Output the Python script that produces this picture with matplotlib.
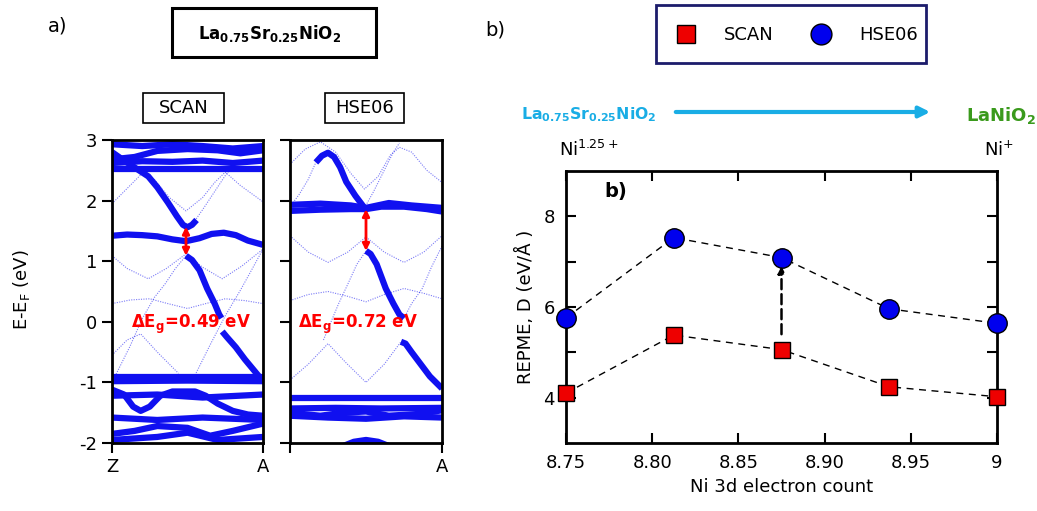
import matplotlib
matplotlib.use('Agg')
import matplotlib.pyplot as plt
from matplotlib.patches import Rectangle, FancyArrowPatch
from matplotlib.lines import Line2D

# ---- band structure data, (k, E) with k from Z (0) to A (1) ----
# SCAN, heavy-weight bands
scan_cb = [(0.0, 2.80), (0.08, 2.66), (0.16, 2.53), (0.24, 2.40), (0.30, 2.22), (0.37, 1.97),
           (0.43, 1.74), (0.47, 1.60), (0.50, 1.56), (0.53, 1.60), (0.56, 1.68)]
scan_flat = [(0.0, 1.42), (0.1, 1.44), (0.2, 1.43), (0.3, 1.41), (0.4, 1.36), (0.49, 1.33),
             (0.58, 1.38), (0.66, 1.45), (0.74, 1.47), (0.82, 1.43), (0.9, 1.34), (1.0, 1.27)]
scan_vb1 = [(0.49, 1.09), (0.53, 1.02), (0.58, 0.85), (0.63, 0.55), (0.68, 0.30), (0.71, 0.12), (0.725, 0.06)]
scan_vb2 = [(0.73, -0.16), (0.76, -0.25), (0.82, -0.42), (0.88, -0.62), (0.94, -0.80), (1.0, -0.98)]
scan_top1 = [(0.0, 2.93), (0.2, 2.90), (0.4, 2.93), (0.6, 2.90), (0.8, 2.86), (1.0, 2.90)]
scan_top2 = [(0.0, 2.68), (0.15, 2.72), (0.3, 2.82), (0.5, 2.85), (0.7, 2.83), (0.85, 2.78), (1.0, 2.83)]
scan_top3 = [(0.0, 2.62), (0.2, 2.65), (0.4, 2.64), (0.6, 2.66), (0.8, 2.62), (1.0, 2.66)]
scan_top4 = [(0.0, 2.52), (0.5, 2.52), (1.0, 2.52)]
scan_low1 = [(0.0, -0.91), (0.5, -0.91), (1.0, -0.91)]
scan_low2 = [(0.0, -0.98), (0.5, -0.97), (1.0, -0.98)]
scan_low3 = [(0.0, -1.22), (0.3, -1.20), (0.6, -1.25), (1.0, -1.20)]
scan_low4 = [(0.0, -1.12), (0.08, -1.20), (0.14, -1.40), (0.19, -1.47), (0.25, -1.40), (0.32, -1.22),
             (0.4, -1.15), (0.55, -1.15), (0.62, -1.22), (0.7, -1.35), (0.8, -1.47), (0.9, -1.53), (1.0, -1.55)]
scan_bot1 = [(0.0, -1.85), (0.15, -1.80), (0.3, -1.72), (0.5, -1.75), (0.65, -1.88), (0.8, -1.80), (1.0, -1.68)]
scan_bot2 = [(0.0, -1.95), (0.3, -1.90), (0.5, -1.83), (0.7, -1.95), (1.0, -1.90)]
scan_bot3 = [(0.0, -1.58), (0.3, -1.62), (0.6, -1.58), (1.0, -1.62)]
# SCAN, light-weight bands
scan_t1 = [(0.0, 1.95), (0.1, 2.20), (0.2, 2.45), (0.28, 2.35), (0.38, 2.05), (0.49, 1.83), (0.6, 2.05),
           (0.68, 2.30), (0.75, 2.47), (0.85, 2.25), (1.0, 1.98)]
scan_t2 = [(0.0, 1.09), (0.1, 0.88), (0.24, 0.71), (0.36, 0.88), (0.49, 1.12), (0.6, 0.90),
           (0.73, 0.71), (0.86, 0.92), (1.0, 1.20)]
scan_t3 = [(0.0, 0.30), (0.12, 0.36), (0.25, 0.38), (0.37, 0.30), (0.5, 0.22), (0.62, 0.30),
           (0.75, 0.38), (0.88, 0.35), (1.0, 0.30)]
scan_t4 = [(0.02, -0.90), (0.12, -0.40), (0.2, 0.05), (0.28, 0.40), (0.35, 0.62), (0.42, 0.88), (0.49, 1.09)]
scan_t5 = [(0.55, -0.88), (0.65, -0.38), (0.75, 0.10), (0.85, 0.52), (0.93, 0.88), (1.0, 1.20)]
scan_t6 = [(0.53, 1.60), (0.6, 1.85), (0.68, 2.15), (0.76, 2.45), (0.82, 2.60)]
scan_t7 = [(0.0, -0.55), (0.1, -0.30), (0.19, -0.20), (0.3, -0.50), (0.44, -0.85)]

# HSE06, heavy-weight bands
hse_cb = [(0.17, 2.63), (0.21, 2.74), (0.25, 2.79), (0.29, 2.72), (0.33, 2.55), (0.37, 2.31),
          (0.43, 2.08), (0.49, 1.88)]
hse_flat1 = [(0.0, 1.83), (0.2, 1.85), (0.4, 1.86), (0.5, 1.86), (0.6, 1.90), (0.75, 1.90), (0.9, 1.86), (1.0, 1.82)]
hse_flat2 = [(0.0, 1.93), (0.2, 1.95), (0.4, 1.92), (0.5, 1.88), (0.65, 1.96), (0.8, 1.92), (1.0, 1.88)]
hse_vb1 = [(0.5, 1.17), (0.53, 1.12), (0.57, 0.95), (0.63, 0.55), (0.68, 0.30), (0.72, 0.12), (0.75, 0.06)]
hse_vb2 = [(0.73, -0.33), (0.76, -0.36), (0.8, -0.50), (0.86, -0.70), (0.92, -0.90), (1.0, -1.10)]
hse_low1 = [(0.0, -1.26), (0.5, -1.26), (1.0, -1.26)]
hse_low2 = [(0.0, -1.43), (0.3, -1.42), (0.6, -1.43), (1.0, -1.42)]
hse_low3 = [(0.0, -1.50), (0.2, -1.55), (0.35, -1.50), (0.5, -1.48), (0.65, -1.55), (0.85, -1.52), (1.0, -1.46)]
hse_low4 = [(0.0, -1.55), (0.25, -1.58), (0.5, -1.60), (0.75, -1.56), (1.0, -1.58)]
hse_bump = [(0.35, -2.05), (0.42, -1.98), (0.5, -1.95), (0.58, -1.98), (0.65, -2.05)]
# HSE06, light-weight bands
hse_t1 = [(0.0, 2.60), (0.1, 2.85), (0.2, 2.97), (0.3, 2.80), (0.4, 2.45), (0.49, 2.19), (0.58, 2.40),
          (0.66, 2.75), (0.72, 2.88), (0.8, 2.80), (0.9, 2.50), (1.0, 2.30)]
hse_t2 = [(0.0, 1.42), (0.12, 1.15), (0.25, 0.98), (0.38, 1.15), (0.5, 1.40), (0.62, 1.15),
          (0.75, 0.98), (0.88, 1.15), (1.0, 1.42)]
hse_t3 = [(0.0, 0.35), (0.12, 0.45), (0.25, 0.50), (0.38, 0.42), (0.5, 0.33), (0.62, 0.45),
          (0.75, 0.55), (0.88, 0.47), (1.0, 0.38)]
hse_t4 = [(0.22, -0.30), (0.27, 0.0), (0.32, 0.30), (0.38, 0.62), (0.44, 0.95), (0.5, 1.17)]
hse_t5 = [(0.75, 0.06), (0.8, 0.30), (0.87, 0.55), (0.93, 0.90), (1.0, 1.25)]
hse_t6 = [(0.0, -0.96), (0.12, -0.70), (0.25, -0.36), (0.37, -0.68), (0.5, -1.0), (0.62, -0.70), (0.73, -0.33)]
hse_t7 = [(0.0, 1.90), (0.06, 2.10), (0.12, 2.35), (0.17, 2.63)]
hse_t8 = [(0.49, 1.88), (0.55, 2.15), (0.62, 2.50), (0.68, 2.80), (0.72, 2.95)]

scan_heavy = [scan_cb, scan_flat, scan_vb1, scan_vb2, scan_top1, scan_top2, scan_top3, scan_top4,
              scan_low1, scan_low2, scan_low3, scan_low4, scan_bot1, scan_bot2, scan_bot3]
scan_light = [scan_t1, scan_t2, scan_t3, scan_t4, scan_t5, scan_t6, scan_t7]
hse_heavy = [hse_cb, hse_flat1, hse_flat2, hse_vb1, hse_vb2, hse_low1, hse_low2, hse_low3, hse_low4, hse_bump]
hse_light = [hse_t1, hse_t2, hse_t3, hse_t4, hse_t5, hse_t6, hse_t7, hse_t8]

# gap arrows (k, E_low, E_high) and labels
scan_gap = (0.49, 1.09, 1.57)
hse_gap = (0.50, 1.17, 1.86)
scan_gap_text = 'ΔE$_\\mathbf{g}$=0.49 eV'
hse_gap_text = 'ΔE$_\\mathbf{g}$=0.72 eV'

# ---- REPME data ----
electron_count = [8.75, 8.8125, 8.875, 8.9375, 9.0]
repme_scan = [4.10, 5.38, 5.06, 4.24, 4.02]
repme_hse = [5.76, 7.53, 7.09, 5.96, 5.64]
xtick_vals = [8.75, 8.80, 8.85, 8.90, 8.95, 9.0]
xtick_labels = ['8.75', '8.80', '8.85', '8.90', '8.95', '9']

W, H = 1037, 511


def fx(px):
    return px / W


def fy(py):
    return 1 - py / H


fig = plt.figure(figsize=(W / 100, H / 100), dpi=100)

band_blue = '#1010f0'


def draw_bands(ax, heavy, light, gap, gap_text, text_k):
    for band in light:
        ax.plot([p[0] for p in band], [p[1] for p in band], color=band_blue, lw=0.8,
                ls=(0, (1, 1.2)), alpha=0.55)
    for band in heavy:
        ax.plot([p[0] for p in band], [p[1] for p in band], color=band_blue, lw=4.5,
                solid_capstyle='butt', solid_joinstyle='round')
    k, lo, hi = gap
    ax.annotate('', xy=(k, lo), xytext=(k, hi),
                arrowprops=dict(arrowstyle='<|-|>', color='red', lw=2, mutation_scale=10,
                                shrinkA=0, shrinkB=0))
    ax.text(text_k, -0.05, gap_text, color='red', fontsize=12, fontweight='bold',
            ha='center', va='center')
    ax.set_xlim(0, 1)
    ax.set_ylim(-2, 3)
    ax.set_xticks([0, 1])
    ax.set_yticks([-2, -1, 0, 1, 2, 3])
    ax.tick_params(direction='out', length=7, width=1.5, labelsize=13)
    for s in ax.spines.values():
        s.set_linewidth(2)


ax1 = fig.add_axes([fx(112), fy(443), 151 / W, 303 / H])
draw_bands(ax1, scan_heavy, scan_light, scan_gap, scan_gap_text, 0.52)
ax1.set_xticklabels(['Z', 'A'])
ax1.set_yticklabels(['-2', '-1', '0', '1', '2', '3'])

ax2 = fig.add_axes([fx(290), fy(443), 152 / W, 303 / H])
draw_bands(ax2, hse_heavy, hse_light, hse_gap, hse_gap_text, 0.45)
ax2.set_xticklabels(['', 'A'])
ax2.set_yticklabels([])

fig.text(fx(22), fy(290), 'E-E$_\\mathrm{F}$ (eV)', rotation=90, fontsize=13, ha='center', va='center')

# boxes above the band panels
fig.text(fx(58), fy(26), 'a)', fontsize=14, ha='center', va='center')
fig.add_artist(Rectangle((fx(172), fy(57)), 204 / W, 49 / H, transform=fig.transFigure,
                         fill=False, ec='black', lw=2.2))
fig.text(fx(270), fy(33), r'$\mathbf{La_{0.75}Sr_{0.25}NiO_2}$', fontsize=12,
         ha='center', va='center')
fig.add_artist(Rectangle((fx(143), fy(123)), 81 / W, 30 / H, transform=fig.transFigure,
                         fill=False, ec='black', lw=1.2))
fig.text(fx(184), fy(108), 'SCAN', fontsize=13, ha='center', va='center')
fig.add_artist(Rectangle((fx(325), fy(123)), 79 / W, 30 / H, transform=fig.transFigure,
                         fill=False, ec='black', lw=1.2))
fig.text(fx(365), fy(108), 'HSE06', fontsize=13, ha='center', va='center')

# ---- right panel ----
ax3 = fig.add_axes([fx(566), fy(443), 431 / W, 272 / H])
ax3.plot(electron_count, repme_hse, color='black', ls=(0, (5, 4)), lw=1, zorder=2)
ax3.plot(electron_count, repme_scan, color='black', ls=(0, (5, 4)), lw=1, zorder=2)
ax3.plot(electron_count, repme_hse, ls='none', marker='o', ms=14, mfc='#0000ee', mec='black',
         mew=1, zorder=3, clip_on=False)
ax3.plot(electron_count, repme_scan, ls='none', marker='s', ms=12, mfc='#ee0000', mec='black',
         mew=1, zorder=3, clip_on=False)
ax3.annotate('', xy=(electron_count[2], 6.9), xytext=(electron_count[2], 5.4),
             arrowprops=dict(arrowstyle='-|>', color='black', lw=1.8, ls=(0, (4, 2)),
                             mutation_scale=10, shrinkA=0, shrinkB=0))
ax3.text(8.779, 8.55, 'b)', fontsize=14, fontweight='bold', ha='center', va='center')
ax3.set_xlim(8.75, 9.0)
ax3.set_ylim(3, 9)
ax3.set_xticks(xtick_vals)
ax3.set_xticklabels(xtick_labels)
ax3.set_yticks([4, 5, 6, 7, 8])
ax3.set_yticklabels(['4', '', '6', '', '8'])
ax3.tick_params(direction='in', length=7, width=1.5, labelsize=13, top=True, right=True, pad=8)
for s in ax3.spines.values():
    s.set_linewidth(2)
ax3.set_xlabel('Ni 3d electron count', fontsize=13, labelpad=4)
ax3.set_ylabel('REPME, D (eV/Å )', fontsize=13, labelpad=6)

# legend box
fig.add_artist(Rectangle((fx(656), fy(63)), 270 / W, 58 / H, transform=fig.transFigure,
                         fill=False, ec='#1c1c6b', lw=2))
handles = [Line2D([], [], ls='none', marker='s', ms=13, mfc='#ee0000', mec='black'),
           Line2D([], [], ls='none', marker='o', ms=15, mfc='#0000ee', mec='black')]
fig.legend(handles, ['SCAN', 'HSE06'], loc='center', bbox_to_anchor=(fx(793), fy(35)),
           ncol=2, frameon=False, fontsize=13, columnspacing=1.6, handletextpad=1.1)
fig.text(fx(495), fy(30), 'b)', fontsize=14, ha='center', va='center')

# composition arrow
sky = '#19ade5'
fig.text(fx(521), fy(115), r'$\mathbf{La_{0.75}Sr_{0.25}NiO_2}$', color=sky, fontsize=11.3,
         ha='left', va='center')
fig.add_artist(FancyArrowPatch((fx(673), fy(112)), (fx(933), fy(112)), transform=fig.transFigure,
                               arrowstyle='-|>', mutation_scale=16, color=sky, lw=3))
fig.text(fx(1036), fy(115), r'$\mathbf{LaNiO_2}$', color='#3a9a1c', fontsize=13,
         ha='right', va='center')
fig.text(fx(559), fy(150), 'Ni$^{1.25+}$', fontsize=13, ha='left', va='center')
fig.text(fx(984), fy(150), 'Ni$^{+}$', fontsize=13, ha='left', va='center')

fig.savefig('out.png', dpi=100)
